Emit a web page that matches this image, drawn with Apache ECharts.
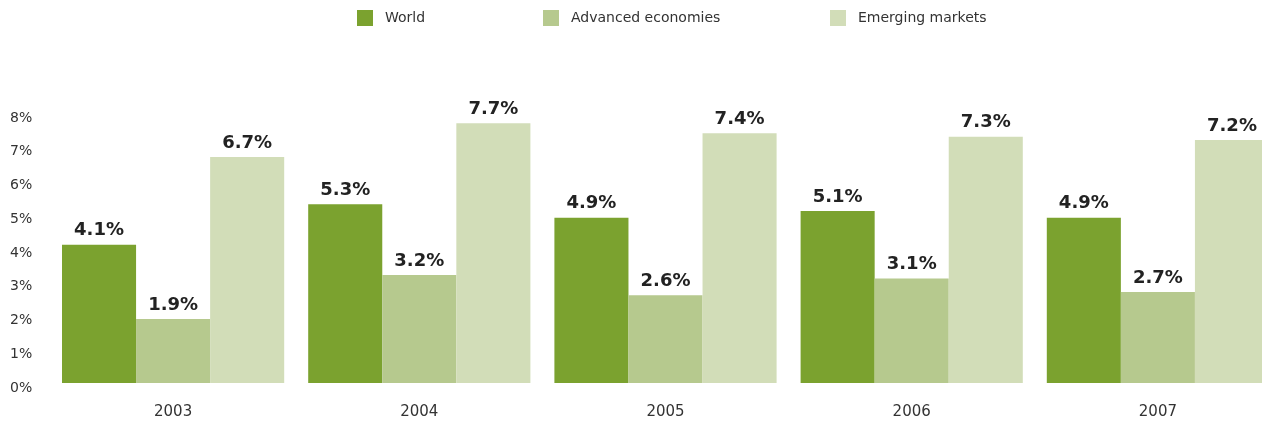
<!DOCTYPE html>
<html>
<head>
<meta charset="utf-8">
<style>
  html, body { margin: 0; padding: 0; background: #ffffff; overflow: hidden; }
  /* the plot runs a little past the right edge of the window */
  #chart { width: 1290px; height: 422px; }
</style>
<script src="https://cdn.jsdelivr.net/npm/echarts@6/dist/echarts.min.js"></script>
</head>
<body>
<div id="chart"></div>
<script>
// Annual GDP growth, percent
const years = ['2003', '2004', '2005', '2006', '2007'];
const world = [4.1, 5.3, 4.9, 5.1, 4.9];
const advanced = [1.9, 3.2, 2.6, 3.1, 2.7];
const emerging = [6.7, 7.7, 7.4, 7.3, 7.2];
const seriesNames = ['World', 'Advanced economies', 'Emerging markets'];
const seriesColors = ['#7ba22f', '#b6c98e', '#d2ddb8'];

const FONT = '"DejaVu Sans", sans-serif';

const chart = echarts.init(document.getElementById('chart'), null, { renderer: 'canvas' });

function legendAt(name, left) {
  return {
    show: true,
    data: [name],
    left: left,
    top: 10,
    padding: 0,
    itemWidth: 16,
    itemHeight: 16,
    icon: 'rect',
    selectedMode: false,
    textStyle: { fontFamily: FONT, fontSize: 14, color: '#333333', padding: [0, 0, 0, 7] }
  };
}

function barSeries(idx, values) {
  return {
    name: seriesNames[idx],
    type: 'bar',
    data: values,
    barGap: '0%',
    barCategoryGap: '9.75%',
    itemStyle: { color: seriesColors[idx] },
    label: {
      show: true,
      position: 'top',
      distance: 5,
      fontFamily: FONT,
      fontWeight: 'bold',
      fontSize: 18,
      color: '#222222',
      formatter: p => p.value.toFixed(1) + '%'
    }
  };
}

chart.setOption({
  animation: false,
  legend: [
    legendAt(seriesNames[0], 357),
    legendAt(seriesNames[1], 543),
    legendAt(seriesNames[2], 830)
  ],
  grid: { left: 50, top: 113, width: 1231, height: 270, containLabel: false },
  xAxis: {
    type: 'category',
    data: years,
    axisLine: { show: false },
    axisTick: { show: false },
    axisLabel: { margin: 22, fontFamily: FONT, fontSize: 15, color: '#333333' }
  },
  yAxis: {
    type: 'value',
    min: 0,
    max: 8,
    interval: 1,
    axisLine: { show: false },
    axisTick: { show: false },
    splitLine: { show: false },
    axisLabel: {
      margin: 40,
      align: 'left',
      verticalAlign: 'top',
      lineHeight: 10,
      fontFamily: FONT,
      fontSize: 14,
      color: '#333333',
      formatter: v => v + '%'
    }
  },
  series: [
    barSeries(0, world),
    barSeries(1, advanced),
    barSeries(2, emerging)
  ]
});
</script>
</body>
</html>
